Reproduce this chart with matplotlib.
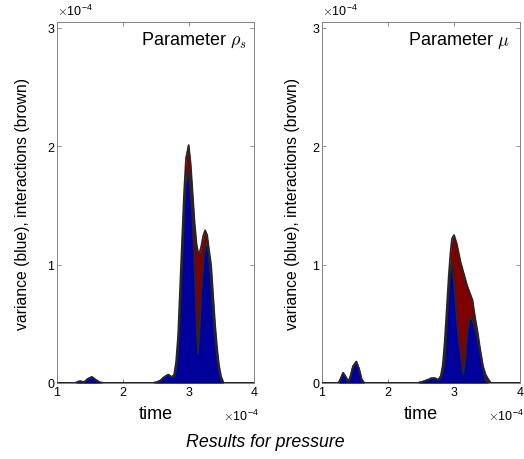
import matplotlib
matplotlib.use("Agg")
import matplotlib.pyplot as plt

plt.rcParams["font.family"] = ["Liberation Sans", "DejaVu Sans"]
plt.rcParams["mathtext.fontset"] = "cm"

# time axis and values, both in units of 1e-4
t_left = [1.00, 1.28, 1.32, 1.35, 1.38, 1.42, 1.47, 1.53, 1.59, 1.65, 1.70,
          2.45, 2.51, 2.57, 2.63, 2.69, 2.74, 2.78, 2.81, 2.84, 2.87, 2.90,
          2.93, 2.96, 3.00, 3.03, 3.06, 3.09, 3.12, 3.14, 3.16, 3.19, 3.22,
          3.25, 3.28, 3.31, 3.34, 3.37, 3.40, 3.43, 3.46, 3.49, 3.53, 3.56, 4.00]
var_left = [0, 0, 0.01, 0.015, 0.01, 0.01, 0.035, 0.05, 0.025, 0.005, 0,
            0, 0.005, 0.02, 0.05, 0.07, 0.05, 0.05, 0.12, 0.3, 0.6, 1.0,
            1.45, 1.7, 1.79, 1.6, 1.38, 0.98, 0.5, 0.25, 0.4, 0.75, 1.0,
            1.14, 1.18, 1.08, 0.85, 0.6, 0.38, 0.22, 0.1, 0.03, 0, 0, 0]
tot_left = [0, 0, 0.01, 0.015, 0.01, 0.01, 0.035, 0.05, 0.025, 0.005, 0,
            0, 0.005, 0.02, 0.05, 0.07, 0.05, 0.07, 0.18, 0.4, 0.8, 1.2,
            1.6, 1.9, 2.01, 1.85, 1.6, 1.35, 1.17, 1.11, 1.09, 1.15, 1.24,
            1.29, 1.25, 1.12, 1.0, 0.75, 0.5, 0.3, 0.15, 0.06, 0, 0, 0]

t_right = [1.00, 1.25, 1.28, 1.32, 1.36, 1.40, 1.43, 1.47, 1.52, 1.56, 1.60, 1.64,
           2.45, 2.52, 2.60, 2.66, 2.71, 2.76, 2.80, 2.83, 2.86, 2.89, 2.92,
           2.95, 2.97, 3.00, 3.04, 3.07, 3.10, 3.14, 3.17, 3.20, 3.24, 3.28,
           3.32, 3.36, 3.40, 3.44, 3.48, 3.52, 3.56, 4.00]
var_right = [0, 0, 0.03, 0.085, 0.05, 0.01, 0.05, 0.14, 0.18, 0.12, 0.03, 0,
             0, 0.01, 0.025, 0.04, 0.04, 0.025, 0.04, 0.1, 0.2, 0.5, 0.78,
             0.97, 1.02, 0.85, 0.55, 0.38, 0.24, 0.07, 0.2, 0.42, 0.56, 0.53,
             0.46, 0.36, 0.25, 0.12, 0.02, 0, 0, 0]
tot_right = [0, 0, 0.03, 0.085, 0.05, 0.01, 0.05, 0.14, 0.18, 0.12, 0.03, 0,
             0, 0.01, 0.025, 0.04, 0.04, 0.025, 0.06, 0.15, 0.35, 0.62, 0.9,
             1.12, 1.22, 1.25, 1.18, 1.1, 1.02, 0.94, 0.88, 0.82, 0.76, 0.7,
             0.55, 0.42, 0.27, 0.14, 0.07, 0.03, 0, 0]

xticks = [1, 2, 3, 4]
yticks = [0, 1, 2, 3]
titles = [r"Parameter $\rho_s$", r"Parameter $\mu$"]

BLUE = "#00009A"
BROWN = "#7F0000"
EDGE = "#262626"
AXC = "#808080"
EXP = r"$\times$10$^{\mathregular{-4}}$"

fig = plt.figure(figsize=(5.24, 4.6), dpi=100)
ax1 = fig.add_axes([57 / 524, 76 / 460, 197.5 / 524, 361 / 460])
ax2 = fig.add_axes([322 / 524, 76 / 460, 198 / 524, 361 / 460])

panels = [(ax1, t_left, var_left, tot_left, 0.96, 12.5),
          (ax2, t_right, var_right, tot_right, 0.945, 9)]

for i, (ax, t, v, tot, tx, ypad) in enumerate(panels):
    ax.fill_between(t, 0, tot, color=BROWN, lw=0, zorder=2)
    ax.fill_between(t, 0, v, color=BLUE, lw=0, zorder=3)
    ax.plot(t, tot, color=EDGE, lw=1.3, zorder=4)
    ax.plot(t, v, color=EDGE, lw=1.3, zorder=4)

    ax.set_xlim(1, 4)
    ax.set_ylim(0, 3.05)
    ax.set_xticks(xticks)
    ax.set_yticks(yticks)
    ax.tick_params(direction="in", length=3, width=0.6, color=AXC,
                   labelsize=9, top=True, right=True, pad=2)
    for sp in ax.spines.values():
        sp.set_color(AXC)
        sp.set_linewidth(0.7)

    ax.set_xlabel("time", fontsize=13, labelpad=5)
    ax.set_ylabel("variance (blue), interactions (brown)", fontsize=11.3,
                  labelpad=ypad)

    ax.text(tx, 0.952, titles[i], transform=ax.transAxes,
            ha="right", va="center", fontsize=13)

    # exponent labels in matlab style
    ax.text(0.0, 1.012, EXP, transform=ax.transAxes,
            ha="left", va="bottom", fontsize=9)
    ax.text(1.02, -0.07, EXP, transform=ax.transAxes,
            ha="right", va="top", fontsize=9)

fig.text(0.506, 0.037, "Results for pressure", ha="center", va="center",
         fontsize=12.8, style="italic")

fig.savefig("out.png", dpi=100, facecolor="white")
